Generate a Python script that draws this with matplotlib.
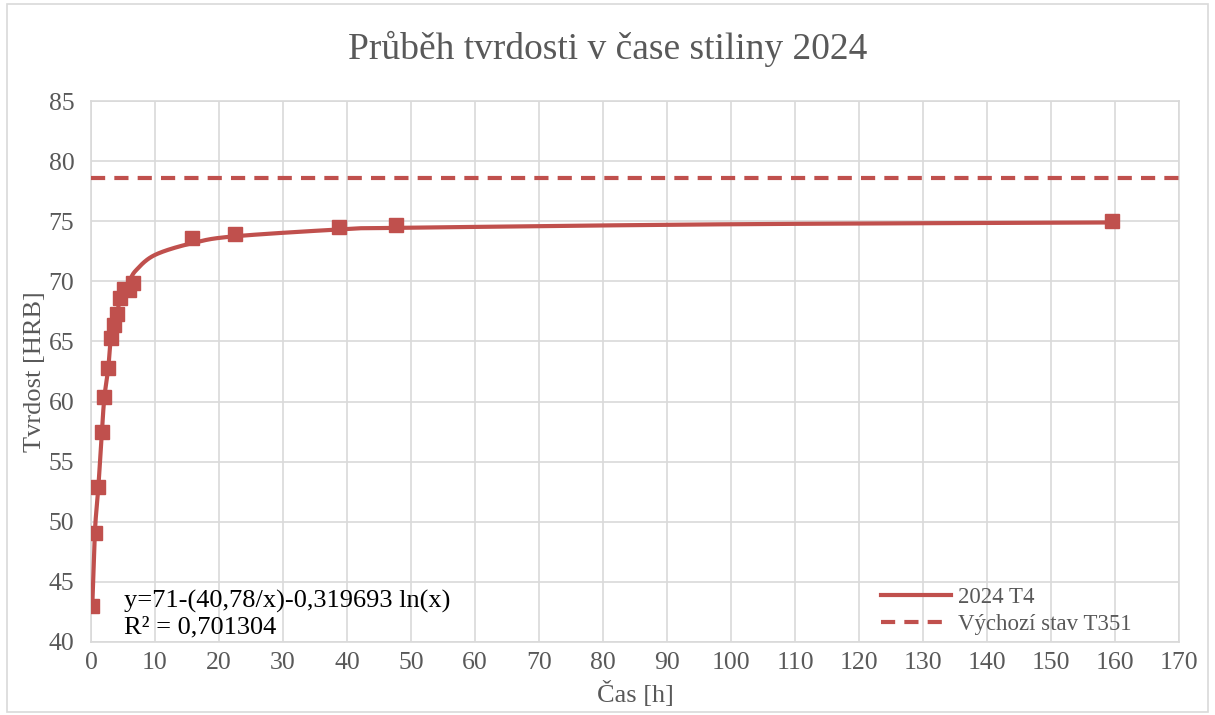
import numpy as np
import matplotlib.pyplot as plt
from matplotlib.patches import Rectangle

plt.rcParams['font.family'] = ['Liberation Serif', 'DejaVu Serif']

cas = [0.2, 0.6, 1.15, 1.7, 2.1, 2.7, 3.1, 3.6, 4.0, 4.5, 5.1, 5.9, 6.6,
       15.8, 22.5, 38.8, 47.7, 159.5]
tvrdost = [43.0, 49.1, 52.9, 57.5, 60.4, 62.8, 65.3, 66.4, 67.3, 68.6, 69.4,
           69.3, 69.9, 73.6, 73.9, 74.55, 74.7, 75.0]

# the smoothed line does not go exactly through the markers
line_cas = [0.2, 0.6, 1.15, 1.7, 2.1, 2.7, 3.1, 3.6, 4.0, 4.5, 5.1, 6.0, 7.0,
            10, 16, 22.5, 40, 48, 100, 160]
line_tvrdost = [43.0, 49.1, 52.9, 57.5, 60.4, 62.8, 65.3, 66.4, 67.3, 68.4, 69.2,
                70.0, 70.9, 72.2, 73.2, 73.75, 74.35, 74.45, 74.75, 74.9]

vychozi_stav = 78.6

red = '#c0504d'
grey_txt = '#595959'
grid_col = '#d9d9d9'


def excel_smooth(x, y, sx=6.41, sy=12.02, n=30):
    # Bezier smoothing similar to Excel "smoothed line", done in screen-like units
    p = np.column_stack([np.asarray(x) * sx, np.asarray(y) * sy])
    out = []
    for i in range(len(p) - 1):
        p0 = p[i - 1] if i > 0 else p[i]
        p1, p2 = p[i], p[i + 1]
        p3 = p[i + 2] if i + 2 < len(p) else p[i + 1]
        c1 = p1 + (p2 - p0) / 6
        c2 = p2 - (p3 - p1) / 6
        t = np.linspace(0, 1, n)[:, None]
        seg = ((1 - t) ** 3 * p1 + 3 * (1 - t) ** 2 * t * c1
               + 3 * (1 - t) * t ** 2 * c2 + t ** 3 * p2)
        out.append(seg if i == 0 else seg[1:])
    out = np.vstack(out)
    return out[:, 0] / sx, out[:, 1] / sy


fig = plt.figure(figsize=(12.15, 7.15), dpi=100)
ax = fig.add_axes([0.0749, 0.1021, 0.8955, 0.7566])

fig.patches.append(Rectangle((0.006, 0.004), 0.988, 0.99, transform=fig.transFigure,
                             fill=False, edgecolor=grid_col, linewidth=1.2))

sx_, sy_ = excel_smooth(line_cas, line_tvrdost)
ax.plot(sx_, sy_, color=red, linewidth=3, label='2024 T4', zorder=3)
ax.plot(cas, tvrdost, linestyle='none', marker='s', markersize=10.5,
        color=red, zorder=4)
ax.plot([0, 170], [vychozi_stav, vychozi_stav], color=red, linewidth=3,
        linestyle=(0, (3.4, 2.2)), label='Výchozí stav T351', zorder=3)

ax.set_xlim(0, 170)
ax.set_ylim(40, 85)
ax.set_xticks(np.arange(0, 171, 10))
ax.set_yticks(np.arange(40, 86, 5))
ax.grid(True, color=grid_col, linewidth=1.2)
ax.set_axisbelow(True)
for s in ax.spines.values():
    s.set_color(grid_col)
    s.set_linewidth(1.2)
ax.tick_params(length=0, labelsize=18.5, labelcolor=grey_txt)
ax.tick_params(axis='x', pad=7)
ax.tick_params(axis='y', pad=12)

fig.text(0.5, 0.931, 'Průběh tvrdosti v čase stiliny 2024', fontsize=27,
         color=grey_txt, ha='center', va='center')
ax.set_xlabel('Čas [h]', fontsize=19, color=grey_txt, labelpad=5)
ax.set_ylabel('Tvrdost [HRB]', fontsize=19, color=grey_txt, labelpad=2)

ax.text(0.030, 0.006, 'y=71-(40,78/x)-0,319693 ln(x)\nR² = 0,701304',
        transform=ax.transAxes, fontsize=19, color='black',
        linespacing=1.25, va='bottom', ha='left')

leg = ax.legend(loc='lower right', bbox_to_anchor=(0.975, -0.025), frameon=False,
                fontsize=16.5, handlelength=3.05, labelspacing=0.25,
                handletextpad=0.3)
for t in leg.get_texts():
    t.set_color(grey_txt)

fig.savefig('out.png', dpi=100)
